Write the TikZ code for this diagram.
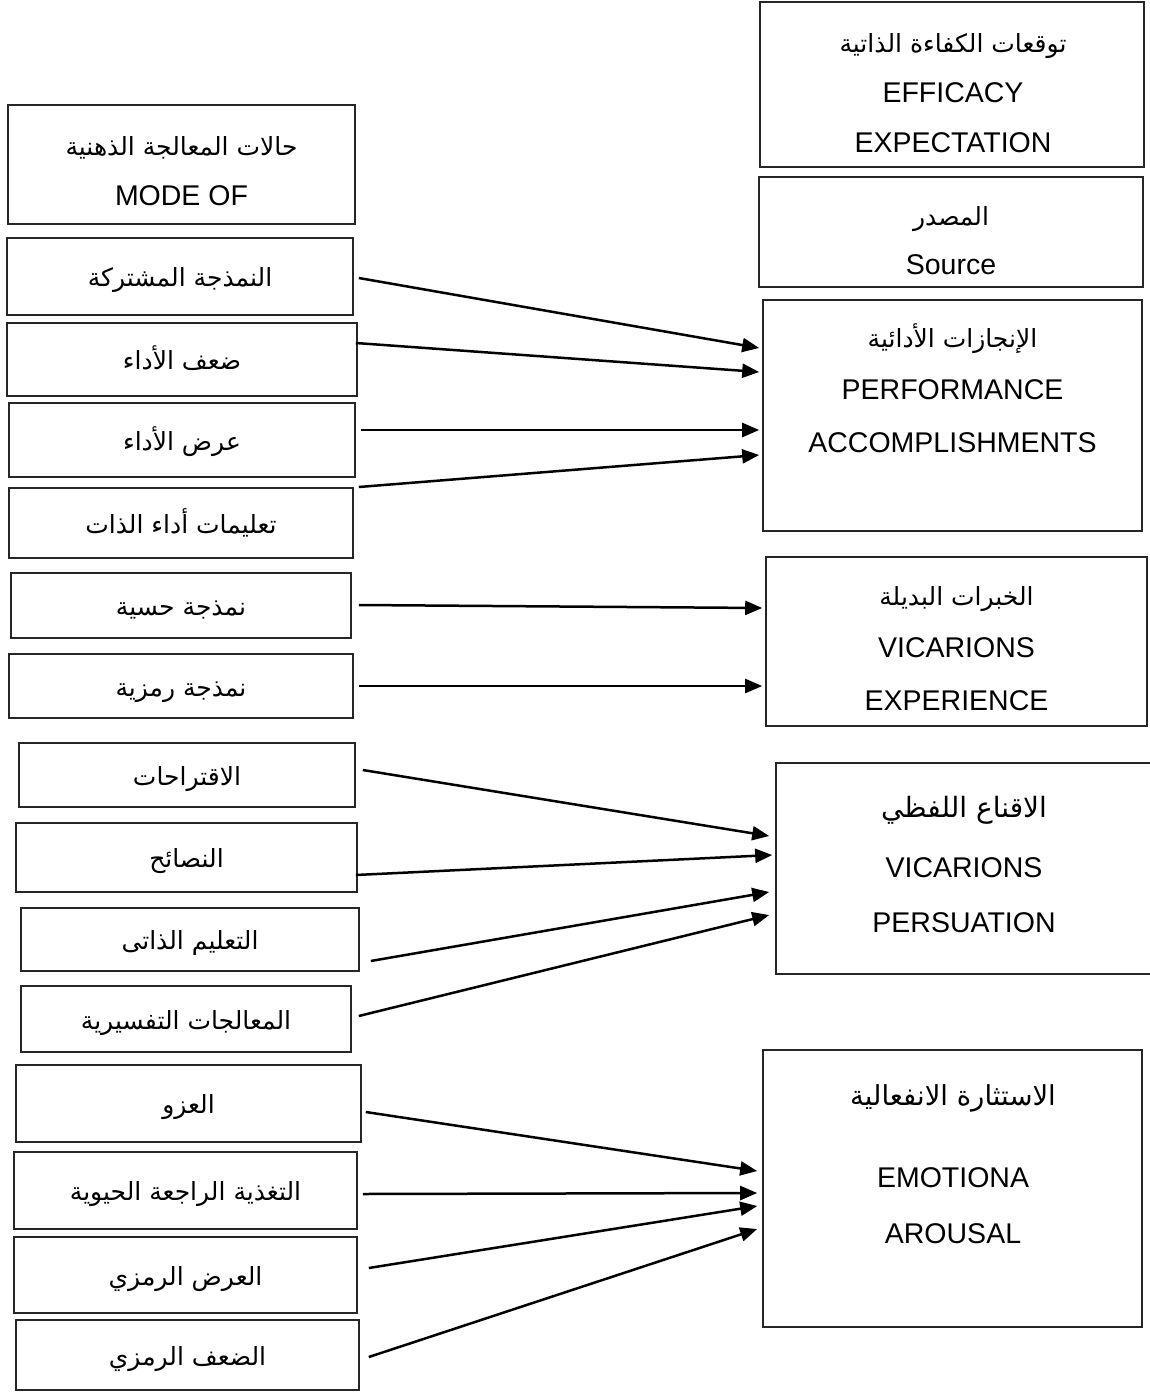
\documentclass[tikz,border=0pt]{standalone}
\usepackage{fontspec}
\setmainfont{Liberation Sans}
\newfontfamily\arfont[Script=Arabic]{DejaVu Sans}
\TeXXeTstate=1
\usetikzlibrary{arrows.meta}
\newcommand{\AR}[1]{{\arfont\beginR #1\endR}}
\begin{document}
\begin{tikzpicture}[x=1pt,y=-1pt,
  box/.style={draw=black!85, line width=1.6pt, inner sep=0pt},
  txt/.style={inner sep=0pt, text height=20pt, text depth=0pt, font=\fontsize{28.5}{34}\selectfont},
  atxt/.style={inner sep=0pt, text height=20pt, text depth=0pt, font=\fontsize{25}{30}\selectfont},
  arr/.style={line width=2.5pt, -{Triangle[length=17pt,width=14pt]}}]
\useasboundingbox (0,0) rectangle (1150,1394);

% ---- left boxes ----
\node[box, minimum width=347pt, minimum height=119pt] (L0) at (181.5,164.5) {};
\node[atxt] (L0a) at (181.5,145) {\AR{حالات المعالجة الذهنية}};
\node[txt] (L0b) at (181.5,195) {MODE OF};

\node[box, atxt, minimum width=346pt, minimum height=77pt] (L1) at (180,276.5) {\AR{النمذجة المشتركة}};
\node[box, atxt, minimum width=350pt, minimum height=73pt] (L2) at (182,359.5) {\AR{ضعف الأداء}};
\node[box, atxt, minimum width=346pt, minimum height=74pt] (L3) at (182,440) {\AR{عرض الأداء}};
\node[box, atxt, minimum width=344pt, minimum height=70pt] (L4) at (181,523) {\AR{تعليمات أداء الذات}};
\node[box, atxt, minimum width=340pt, minimum height=65pt] (L5) at (181,605.5) {\AR{نمذجة حسية}};
\node[box, atxt, minimum width=344pt, minimum height=64pt] (L6) at (181,686) {\AR{نمذجة رمزية}};
\node[box, atxt, minimum width=336pt, minimum height=64pt] (L7) at (187,775) {\AR{الاقتراحات}};
\node[box, atxt, minimum width=341pt, minimum height=69pt] (L8) at (186.5,857.5) {\AR{النصائح}};
\node[box, atxt, minimum width=338pt, minimum height=63pt] (L9) at (190,939.5) {\AR{التعليم الذاتى}};
\node[box, atxt, minimum width=330pt, minimum height=66pt] (L10) at (186,1019) {\AR{المعالجات التفسيرية}};
\node[box, atxt, minimum width=345pt, minimum height=77pt] (L11) at (188.5,1103.5) {\AR{العزو}};
\node[box, atxt, minimum width=343pt, minimum height=77pt] (L12) at (185.5,1190.5) {\AR{التغذية الراجعة الحيوية}};
\node[box, atxt, minimum width=343pt, minimum height=76pt] (L13) at (185.5,1275) {\AR{العرض الرمزي}};
\node[box, atxt, minimum width=343pt, minimum height=70pt] (L14) at (187.5,1355) {\AR{الضعف الرمزي}};

% ---- right boxes ----
\node[box, minimum width=384pt, minimum height=165pt] (R0) at (952,84.5) {};
\node[atxt] (R0a) at (953,43) {\AR{توقعات الكفاءة الذاتية}};
\node[txt] (R0b) at (953,93) {EFFICACY};
\node[txt] (R0c) at (953,143) {EXPECTATION};

\node[box, minimum width=384pt, minimum height=110pt] (R1) at (951,232) {};
\node[atxt] (R1a) at (951,215) {\AR{المصدر}};
\node[txt] (R1b) at (951,264) {Source};

\node[box, minimum width=379pt, minimum height=231pt] (R2) at (952.5,415.5) {};
\node[atxt] (R2a) at (952.5,337) {\AR{الإنجازات الأدائية}};
\node[txt] (R2b) at (952.5,389) {PERFORMANCE};
\node[txt] (R2c) at (952.5,442) {ACCOMPLISHMENTS};

\node[box, minimum width=381pt, minimum height=169pt] (R3) at (956.5,641.5) {};
\node[atxt] (R3a) at (956.5,595) {\AR{الخبرات البديلة}};
\node[txt] (R3b) at (956.5,647) {VICARIONS};
\node[txt] (R3c) at (956.5,700) {EXPERIENCE};

\node[box, minimum width=384pt, minimum height=211pt] (R4) at (968,868.5) {};
\node[atxt, font=\fontsize{28}{34}\selectfont] (R4a) at (964,807) {\AR{الاقناع اللفظي}};
\node[txt] (R4b) at (964,867) {VICARIONS};
\node[txt] (R4c) at (964,922) {PERSUATION};

\node[box, minimum width=379pt, minimum height=277pt] (R5) at (952.5,1188.5) {};
\node[atxt, font=\fontsize{27.5}{32}\selectfont] (R5a) at (953,1095) {\AR{الاستثارة الانفعالية}};
\node[txt] (R5b) at (953,1177) {EMOTIONA};
\node[txt] (R5c) at (953,1233) {AROUSAL};

% ---- connectors ----
\draw[arr] ([xshift=5pt,yshift=-1.5pt]L1.east) -- ([xshift=-3pt,yshift=67.5pt]R2.west);
\draw[arr] ([xshift=-2pt,yshift=16.5pt]L2.east) -- ([xshift=-3pt,yshift=43.5pt]R2.west);
\draw[arr] ([xshift=5pt,yshift=10pt]L3.east) -- ([xshift=-3pt,yshift=-14.5pt]R2.west);
\draw[arr] ([xshift=5pt,yshift=36pt]L4.east) -- ([xshift=-3pt,yshift=-39.5pt]R2.west);
\draw[arr] ([xshift=7pt,yshift=0.5pt]L5.east) -- ([xshift=-3pt,yshift=33.5pt]R3.west);
\draw[arr] ([xshift=5pt,yshift=0pt]L6.east) -- ([xshift=-3pt,yshift=-44.5pt]R3.west);
\draw[arr] ([xshift=7pt,yshift=5pt]L7.east) -- ([xshift=-6pt,yshift=32.5pt]R4.west);
\draw[arr] ([xshift=-2pt,yshift=-17.5pt]L8.east) -- ([xshift=-3pt,yshift=13.5pt]R4.west);
\draw[arr] ([xshift=11pt,yshift=-21.5pt]L9.east) -- ([xshift=-6pt,yshift=-23.5pt]R4.west);
\draw[arr] ([xshift=7pt,yshift=3pt]L10.east) -- ([xshift=-6pt,yshift=-46.5pt]R4.west);
\draw[arr] ([xshift=4pt,yshift=-8.5pt]L11.east) -- ([xshift=-5pt,yshift=17.5pt]R5.west);
\draw[arr] ([xshift=5pt,yshift=-3.5pt]L12.east) -- ([xshift=-5pt,yshift=-4.5pt]R5.west);
\draw[arr] ([xshift=11pt,yshift=7pt]L13.east) -- ([xshift=-5pt,yshift=-17.5pt]R5.west);
\draw[arr] ([xshift=9pt,yshift=-2pt]L14.east) -- ([xshift=-5pt,yshift=-40.5pt]R5.west);
\end{tikzpicture}
\end{document}
